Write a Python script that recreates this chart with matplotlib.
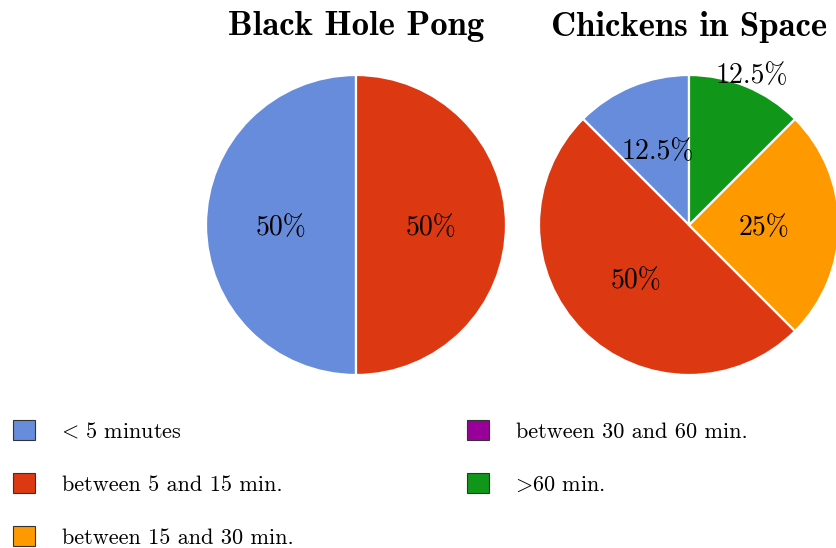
import numpy as np
import matplotlib.pyplot as plt
from matplotlib.patches import Patch

plt.rcParams['mathtext.fontset'] = 'cm'
plt.rcParams['font.family'] = 'cmr10'
plt.rcParams['axes.formatter.use_mathtext'] = True

# categories shared by both pies
categories = [r'$\!\!<\!$ 5 minutes', 'between 5 and 15 min.', 'between 15 and 30 min.',
              'between 30 and 60 min.', r'$\!\!>\!$60 min.']
colors = ['#678cdb', '#dc3912', '#ff9900', '#990099', '#109618']

titles = ['Black Hole Pong', 'Chickens in Space']
black_hole = [50, 50, 0, 0, 0]
chickens = [12.5, 50, 25, 0, 12.5]
# radius (fraction of pie radius) used for each slice label
label_dist = [[0.5, 0.5, 0.5, 0.5, 0.5],
              [0.55, 0.5, 0.5, 0.5, 1.1]]

fig = plt.figure(figsize=(8.36, 5.48), dpi=100)
W, H = 836, 548
centers = [(356, 225), (689, 225)]
R = 150

for k, (vals, title) in enumerate(zip([black_hole, chickens], titles)):
    cx, cy = centers[k]
    ax = fig.add_axes([(cx - R) / W, (H - cy - R) / H, 2 * R / W, 2 * R / H])
    idx = [i for i, v in enumerate(vals) if v > 0]
    v = [vals[i] for i in idx]
    wedges, _ = ax.pie(v, colors=[colors[i] for i in idx], startangle=90,
                       counterclock=True, radius=1,
                       wedgeprops=dict(edgecolor='white', linewidth=1.6))
    total = sum(v)
    for w, i, val in zip(wedges, idx, v):
        ang = np.deg2rad((w.theta1 + w.theta2) / 2)
        d = label_dist[k][i]
        ax.text(d * np.cos(ang), d * np.sin(ang) - 0.02, '%g%%' % (100 * val / total),
                ha='center', va='center', fontsize=20, clip_on=False)
    ax.set_xlim(-1, 1)
    ax.set_ylim(-1, 1)
    ax.set_aspect('equal')
    ax.axis('off')
    fig.text(cx / W, 1 - 27 / H, title, ha='center', va='center',
             fontsize=25, family='cmb10')

handles = [Patch(facecolor=c, edgecolor='#333333', linewidth=0.8) for c in colors]
fig.legend(handles, categories, loc='upper left', bbox_to_anchor=(13 / W, 1 - 420 / H),
           ncol=2, frameon=False, fontsize=16, borderpad=0, borderaxespad=0,
           handlelength=1.0, handleheight=1.0, handletextpad=1.2,
           labelspacing=1.42, columnspacing=7.8)

fig.savefig('out.png', dpi=100)
